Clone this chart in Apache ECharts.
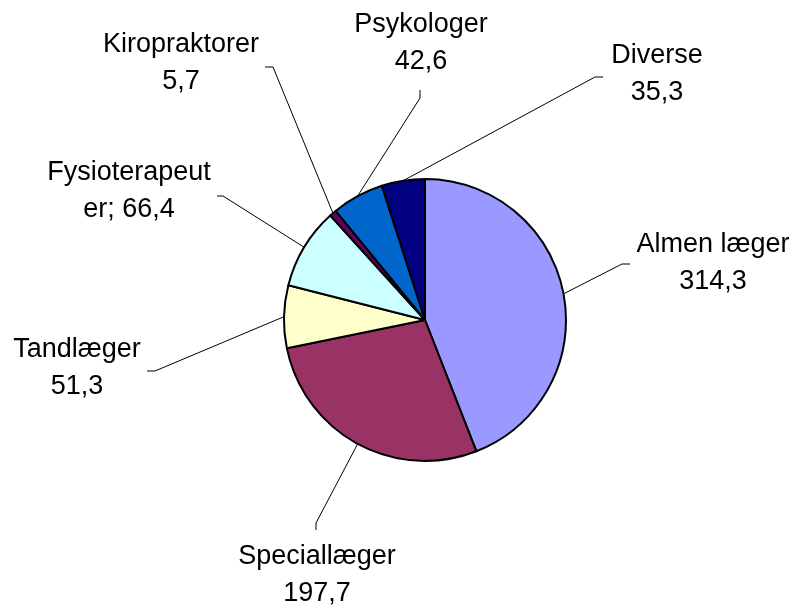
<!DOCTYPE html>
<html><head><meta charset="utf-8">
<script src="https://cdn.jsdelivr.net/npm/echarts@6/dist/echarts.min.js"></script>
<style>html,body{margin:0;padding:0;background:#fff}#c{width:797px;height:611px}</style>
</head><body><div id="c"></div>
<script>
const categories = ['Almen læger','Speciallæger','Tandlæger','Fysioterapeuter','Kiropraktorer','Psykologer','Diverse'];
const values = [314.3, 197.7, 51.3, 66.4, 5.7, 42.6, 35.3];
const colors = ['#9999FF','#993366','#FFFFCC','#CCFFFF','#660066','#0066CC','#000080'];

// label placement (layout only): [text centre x, text centre y, elbow x, elbow y, line end x, line end y]
const labelPlacement = [
  [713, 263, 622, 264, 630, 264],
  [317, 575, 316, 523, 316, 530],
  [77, 368, 155, 371, 147, 371],
  [129, 191, 223, 196, 217, 196],
  [181, 63, 273, 67, 265, 67],
  [421, 43, 420, 98, 420, 90],
  [657, 74, 595, 77, 603, 77]
];

function fmt(v) { return v.toFixed(1).replace('.', ','); }

const chart = echarts.init(document.getElementById('c'), null, {renderer: 'canvas'});
chart.setOption({
  animation: false,
  backgroundColor: '#ffffff',
  series: [{
    type: 'pie',
    center: [425, 320],
    radius: 141,
    startAngle: 90,
    clockwise: true,
    avoidLabelOverlap: false,
    emphasis: {disabled: true},
    itemStyle: {borderColor: '#000', borderWidth: 2},
    label: {
      show: true,
      position: 'outside',
      fontFamily: 'Liberation Sans, Arial, sans-serif',
      fontSize: 27,
      lineHeight: 37,
      color: '#000',
      align: 'center',
      formatter: function (p) {
        if (p.name === 'Fysioterapeuter') return 'Fysioterapeut\ner; ' + fmt(p.value);
        return p.name + '\n' + fmt(p.value);
      }
    },
    labelLine: {show: true, length: 10, length2: 10, lineStyle: {color: '#000', width: 1}},
    labelLayout: function (params) {
      const p = labelPlacement[params.dataIndex];
      const out = {x: p[0], y: p[1], align: 'center', verticalAlign: 'middle'};
      if (params.labelLinePoints) {
        out.labelLinePoints = [params.labelLinePoints[0], [p[2], p[3]], [p[4], p[5]]];
      }
      return out;
    },
    data: categories.map(function (c, i) {
      return {name: c, value: values[i], itemStyle: {color: colors[i]}};
    })
  }]
});
</script>
</body></html>
